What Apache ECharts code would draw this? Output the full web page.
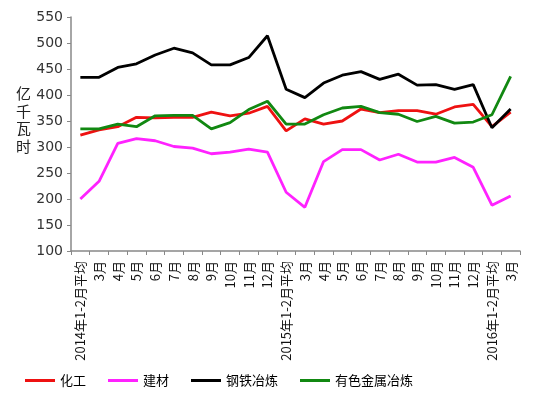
<!DOCTYPE html>
<html><head><meta charset="utf-8">
<script src="https://cdn.jsdelivr.net/npm/echarts@6/dist/echarts.min.js"></script>
<style>html,body{margin:0;padding:0;background:#fff}#c{width:553px;height:395px}</style>
</head><body><div id="c"></div>
<script>
var categories = ['2014年1-2月平均','3月','4月','5月','6月','7月','8月','9月','10月','11月','12月',
  '2015年1-2月平均','3月','4月','5月','6月','7月','8月','9月','10月','11月','12月',
  '2016年1-2月平均','3月'];
var chemical = [323,333,339,357,356,357,357,367,360,365,378, 331,354,344,350,373,366,370,370,363,377,382, 339,367];
var building = [200,234,307,316,312,301,298,287,290,296,290, 213,184,272,295,295,275,286,271,271,280,261, 188,206];
var steel = [434,434,453,460,477,490,481,458,458,472,514, 411,395,423,438,445,430,440,419,420,411,420, 337,373];
var nonferrous = [335,335,344,339,360,361,361,335,347,372,388, 344,344,362,375,378,366,363,349,359,346,348, 362,436];
var yTicks = {min:100, max:550, interval:50};
var yName = '亿\n千\n瓦\n时';
var cjk = '"Noto Sans CJK SC"';
function s(name, data, color){
  return {name:name, type:'line', data:data, symbol:'none', lineStyle:{color:color,width:2.8}, itemStyle:{color:color}};
}
var chart = echarts.init(document.getElementById('c'));
chart.setOption({
  animation:false,
  grid:{left:71,right:33,top:17,bottom:144},
  graphic:[{type:'text',left:16,top:85,style:{text:yName,fontSize:15,lineHeight:17.5,fill:'#222',fontFamily:cjk}}],
  legend:{bottom:3,left:20,itemWidth:30,itemHeight:3,itemGap:22,icon:'rect',
    textStyle:{fontSize:13,color:'#000',fontFamily:cjk},
    data:['化工','建材','钢铁冶炼','有色金属冶炼']},
  xAxis:{type:'category',data:categories,boundaryGap:true,
    axisLine:{lineStyle:{color:'#888',width:1.5}},
    axisTick:{show:true,alignWithLabel:false,length:4,lineStyle:{color:'#888'}},
    axisLabel:{rotate:90,interval:0,fontSize:13,color:'#111',fontFamily:cjk,margin:10}},
  yAxis:{type:'value',min:yTicks.min,max:yTicks.max,interval:yTicks.interval,
    axisLine:{show:true,lineStyle:{color:'#888',width:1.5}},
    axisTick:{show:true,length:4,lineStyle:{color:'#888'}},
    splitLine:{show:false},
    axisLabel:{fontSize:14,color:'#333',fontFamily:'"DejaVu Sans"',margin:8}},
  series:[s('化工',chemical,'#ee1111'),s('建材',building,'#ff22ff'),s('钢铁冶炼',steel,'#000000'),s('有色金属冶炼',nonferrous,'#118811')]
});
</script></body></html>
